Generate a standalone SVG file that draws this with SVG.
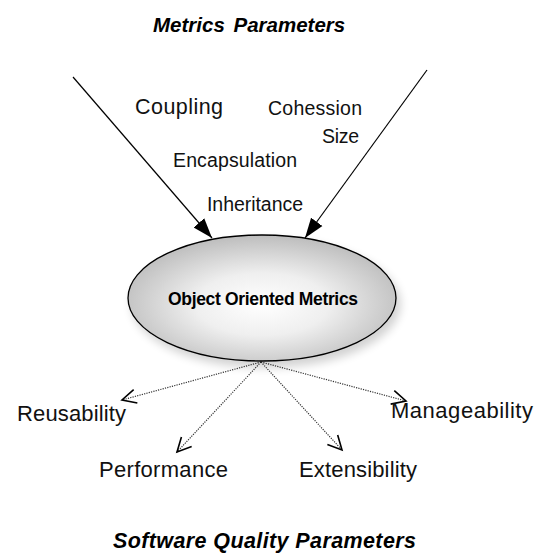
<svg xmlns="http://www.w3.org/2000/svg" width="537" height="554" viewBox="0 0 537 554">
<style>
.lbl{font-family:"Liberation Sans",Arial,sans-serif;fill:#111}
.top{font-size:19.5px}
.bot{font-size:22px}
.ttl{font-family:"Liberation Sans",Arial,sans-serif;font-weight:bold;font-style:italic;font-size:20.5px;fill:#000}
.solid{stroke:#000;stroke-width:1.2;fill:none}
.dot{stroke:#333;stroke-width:1.2;stroke-dasharray:1.2 1.2;fill:none}
</style>
<defs>
<radialGradient id="g" cx="50%" cy="55%" r="55%">
<stop offset="0" stop-color="#ffffff"/>
<stop offset="0.45" stop-color="#efefef"/>
<stop offset="1" stop-color="#bdbdbd"/>
</radialGradient>
<filter id="sh" x="-20%" y="-20%" width="140%" height="150%">
<feGaussianBlur in="SourceAlpha" stdDeviation="5"/>
<feOffset dx="4" dy="6" result="b"/>
<feComponentTransfer><feFuncA type="linear" slope="0.18"/></feComponentTransfer>
<feMerge><feMergeNode/><feMergeNode in="SourceGraphic"/></feMerge>
</filter>
<marker id="fa" markerUnits="userSpaceOnUse" markerWidth="22" markerHeight="16" refX="20" refY="8" orient="auto">
<path d="M0,1 L20,8 L0,15 Z" fill="#000"/>
</marker>
<marker id="oa" markerUnits="userSpaceOnUse" markerWidth="18" markerHeight="18" refX="15" refY="9" orient="auto">
<path d="M1,2 L15,9 L1,16" fill="none" stroke="#000" stroke-width="1.6"/>
</marker>
</defs>
<rect width="537" height="554" fill="#fff"/>
<g id="title-top"><text class="ttl" x="153" y="32">Metrics<tspan dx="3"> Parameters</tspan></text></g>
<g id="connectors">
<line class="solid" x1="73" y1="77" x2="212" y2="238" marker-end="url(#fa)"/>
<line class="solid" x1="427" y1="70" x2="305" y2="238" marker-end="url(#fa)"/>
<line class="dot" x1="261" y1="362" x2="122" y2="400" marker-end="url(#oa)"/>
<line class="dot" x1="261" y1="362" x2="177" y2="452" marker-end="url(#oa)"/>
<line class="dot" x1="261" y1="362" x2="342" y2="450" marker-end="url(#oa)"/>
<line class="dot" x1="261" y1="362" x2="406" y2="401" marker-end="url(#oa)"/>
</g>
<g id="metric-labels">
<text class="lbl top" x="135" y="114" textLength="88" style="font-size:21.5px">Coupling</text>
<text class="lbl top" x="268" y="115" textLength="94">Cohession</text>
<text class="lbl top" x="322" y="143" textLength="37">Size</text>
<text class="lbl top" x="173" y="167" textLength="124">Encapsulation</text>
<text class="lbl top" x="207" y="211" textLength="96">Inheritance</text>
</g>
<g id="oom">
<ellipse cx="262" cy="298" rx="134" ry="63" fill="url(#g)" stroke="#000" stroke-width="1.3" filter="url(#sh)"/>
<text x="263" y="305" text-anchor="middle" textLength="190" style="font-family:'Liberation Sans',Arial,sans-serif;font-weight:bold;font-size:17.5px;fill:#000">Object Oriented Metrics</text>
</g>
<g id="quality-labels">
<text class="lbl bot" x="17" y="421" textLength="109">Reusability</text>
<text class="lbl bot" x="99" y="477" textLength="129">Performance</text>
<text class="lbl bot" x="391" y="418" textLength="142">Manageability</text>
<text class="lbl bot" x="299" y="477" textLength="118">Extensibility</text>
</g>
<g id="title-bottom"><text class="ttl" x="113" y="548" textLength="303" style="font-size:21.5px">Software Quality Parameters</text></g>
</svg>
